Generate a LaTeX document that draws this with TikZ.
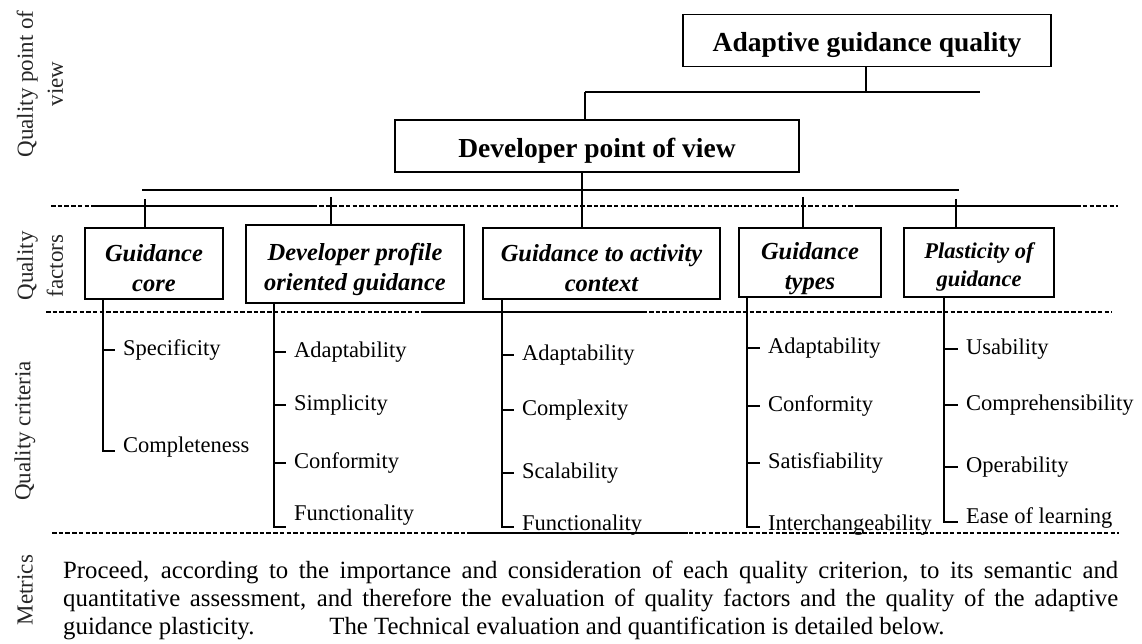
\documentclass[tikz,border=0pt]{standalone}
\usepackage{fontspec}
\setmainfont{Liberation Serif}
\colorlet{mylinecol}{black}
\colorlet{mylabelcol}{black!85}
\tikzstyle{box}=[draw=mylinecol,line width=1.6,inner sep=0]
\tikzstyle{title text}=[inner sep=0,font=\fontsize{27.5}{33}\selectfont\bfseries]
\tikzstyle{factor text}=[inner sep=0,align=center,
                         font=\fontsize{24.5}{30}\selectfont\bfseries\itshape]
\tikzstyle{tree line}=[mylinecol,line width=1.6]
\tikzstyle{level line}=[mylinecol,line width=1.2,dash pattern=on 4.5pt off 2.2pt]
\tikzstyle{criterion}=[anchor=west,inner xsep=8pt,inner ysep=0,
                       font=\fontsize{22.5}{26}\selectfont]
\tikzstyle{level label}=[mylabelcol,rotate=90,align=center,inner sep=0,
                         font=\fontsize{23}{30}\selectfont]

\begin{document}
\begin{tikzpicture}[x=1pt,y=-1pt]
  \useasboundingbox (0,0) rectangle (1142,644);
  
  % LEVEL LABELS
  \node[level label] (lpov) at (40,84)  {Quality point of\\view};
  \node[level label] (lfac) at (40,266) {Quality\\factors};
  \node[level label] (lcri) at (25,431) {Quality criteria};
  \node[level label] (lmet) at (25,590) {Metrics};
  
  % LEVEL SEPARATORS
  \draw[level line] (51,206) -- (1118,206);
  \draw[tree line]  (92,206) -- (312,206);
  \draw[tree line]  (857,206) -- (1078,206);
  \draw[level line] (46,312) -- (1112,312);
  \draw[tree line]  (421,312) -- (642,312);
  \draw[level line] (52,533) -- (1119,533);
  \draw[tree line]  (467,533) -- (688,533);
  
  % POINT OF VIEW
  \node[box,minimum width=368pt,minimum height=52pt] (agq) at (867,40.5) {};
  \node[box,minimum width=404pt,minimum height=52pt] (dpv) at (597,146)  {};
  \node[title text] (agq-t) at ([yshift=-4pt]agq.center) {Adaptive guidance quality};
  \node[title text] (dpv-t) at ([yshift=-5pt]dpv.center) {Developer point of view};
  
  % QUALITY FACTORS
  \foreach \n/\x/\y/\w/\h in {core/154/263.5/138/71,prof/355/264/218/78,ctx/601.5/263.5/237/71,
                             types/810/262.5/142/69,plast/979/262.5/150/69}{
    \node[box,minimum width=\w pt,minimum height=\h pt] (\n) at (\x,\y) {};
  }
  \node[factor text] (core-t)  at ([yshift=-5pt]core.center)  {Guidance\\core};
  \node[factor text] (prof-t)  at ([yshift=-5pt]prof.center)  {Developer profile\\oriented guidance};
  \node[factor text] (ctx-t)   at ([yshift=-5pt]ctx.center)   {Guidance to activity\\context};
  \node[factor text] (types-t) at ([yshift=-6pt]types.center) {Guidance\\types};
  \node[factor text,font=\fontsize{22.5}{28}\selectfont\bfseries\itshape]
                     (plast-t) at ([yshift=-4pt]plast.center) {Plasticity of\\guidance};
  
  % TREE
  \coordinate (J1)  at (866,92);  % under top box
  \coordinate (B1l) at (585,92);
  \coordinate (B1r) at (980,92);
  \coordinate (J2)  at (582,190); % under developer box
  \coordinate (B2l) at (142,190);
  \coordinate (B2r) at (959,190);
  \draw[tree line] (agq.south -| J1) -- (J1);
  \draw[tree line] (B1l) -- (B1r);
  \draw[tree line] (B1l) -- (dpv.north -| B1l);
  \draw[tree line] (B2l) -- (B2r);
  \draw[tree line] (dpv.south -| J2) -- (ctx.north -| J2);
  \foreach \n/\x/\y in {core/145/199,prof/331/197,types/803/197,plast/956/199}{
    \draw[tree line] (\x,\y) -- (\x,0 |- \n.north);
  }
  
  % QUALITY CRITERIA
  \foreach \col/\cx/\tx/\ey/\last/\ly/\items in {
      core/103/115/451/Completeness/447/{Specificity/350},
      prof/274/286/527/Functionality/515/{Adaptability/352,Simplicity/405,Conformity/463},
      ctx/502/514/527/Functionality/525/{Adaptability/355,Complexity/410,Scalability/473},
      types/747/760/527/Interchangeability/525/{Adaptability/348,Conformity/406,Satisfiability/463},
      plast/944/958/522/Ease of learning/518/{Usability/349,Comprehensibility/405,Operability/467}}{
    \coordinate (\col-e) at (\tx,\ey);
    \draw[tree line] (\cx,0 |- \col.south) -- (\cx,\ey) -- (\col-e);
    \node[criterion] (\col-z) at (\tx,\ly) {\last};
    \foreach \lbl/\y [count=\i] in \items{
      \node[criterion] (\col-\i) at (\tx,\y) {\lbl};
      \draw[tree line] (\cx,0 |- \col-\i.west) -- (\col-\i.west);
    }
  }
  
  % METRICS
  \node[anchor=base west,text width=1055pt,align=justify,inner sep=0,
        font=\fontsize{24.8}{28}\selectfont] (met) at (63,578)
    {Proceed, according to the importance and consideration of each quality criterion, to its semantic and\linebreak
     quantitative assessment, and therefore the evaluation of quality factors and the quality of the adaptive\linebreak
     guidance plasticity.\hspace{75pt}The Technical evaluation and quantification is detailed below.};
  
\end{tikzpicture}
\end{document}
